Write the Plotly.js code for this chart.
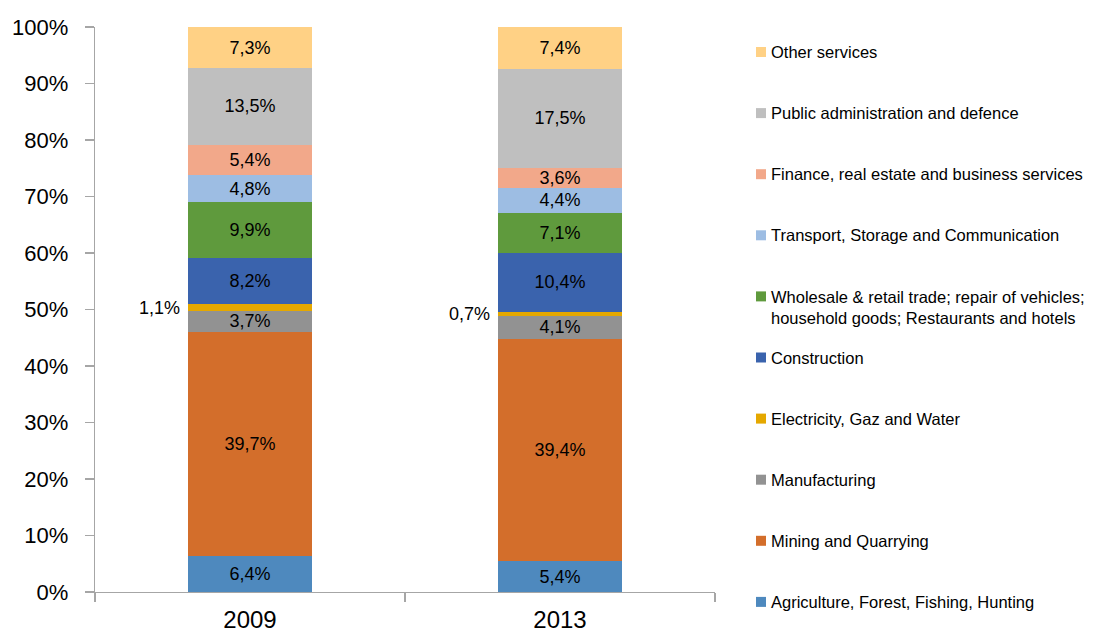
<!DOCTYPE html>
<html>
<head>
<meta charset="utf-8">
<script src="https://cdn.plot.ly/plotly-3.0.1.min.js"></script>
<style>html,body{margin:0;padding:0;background:#fff;}#chart{width:1100px;height:636px;}</style>
</head>
<body>
<div id="chart"></div>
<script>
const categories = ['2009', '2013'];
const seriesNames = [
  'Agriculture, Forest, Fishing, Hunting',
  'Mining and Quarrying',
  'Manufacturing',
  'Electricity, Gaz and Water',
  'Construction',
  'Wholesale & retail trade; repair of vehicles;<br>household goods; Restaurants and hotels',
  'Transport, Storage and Communication',
  'Finance, real estate and business services',
  'Public administration and defence',
  'Other services'
];
const values2009 = [6.4, 39.7, 3.7, 1.1, 8.2, 9.9, 4.8, 5.4, 13.5, 7.3];
const values2013 = [5.4, 39.4, 4.1, 0.7, 10.4, 7.1, 4.4, 3.6, 17.5, 7.4];
const colors = ['#4E89BE', '#D36E2B', '#929292', '#E5A800', '#3A63AD', '#5F9A3D', '#9DBDE3', '#F2A88A', '#BFBFBF', '#FFD185'];
const outsideLabelSeries = ['Electricity, Gaz and Water'];
const yTickValues = [0, 10, 20, 30, 40, 50, 60, 70, 80, 90, 100];

const FONT = 'Liberation Sans, Arial, sans-serif';
const fmt = v => v.toFixed(1).replace('.', ',') + '%';
const seriesValues = seriesNames.map((n, i) => [values2009[i], values2013[i]]);

const traces = seriesNames.map((name, i) => {
  const outside = outsideLabelSeries.includes(name);
  return {
    type: 'bar',
    name: name,
    x: categories,
    y: seriesValues[i],
    text: seriesValues[i].map(v => outside ? '' : fmt(v)),
    textposition: 'inside',
    insidetextanchor: 'middle',
    constraintext: 'none',
    textfont: {family: FONT, size: 18, color: '#000'},
    marker: {color: colors[i], line: {width: 0}},
    width: 0.4,
    hoverinfo: 'skip',
    showlegend: false
  };
});

const annotations = [];
const shapes = [];
// outside labels for thin segments
seriesNames.forEach((name, i) => {
  if (!outsideLabelSeries.includes(name)) return;
  categories.forEach((c, ci) => {
    let base = 0;
    for (let k = 0; k < i; k++) base += seriesValues[k][ci];
    annotations.push({
      xref: 'x', yref: 'y', x: ci - 0.2, y: base + seriesValues[i][ci] / 2,
      text: fmt(seriesValues[i][ci]), showarrow: false, xanchor: 'right', yanchor: 'middle',
      xshift: -6, font: {family: FONT, size: 18, color: '#000'}
    });
  });
});

// custom legend (top item = last series)
const plotTop = 27, plotBottom = 592, plotLeft = 95, plotRight = 715;
const plotH = plotBottom - plotTop, plotW = plotRight - plotLeft;
const legendTop = 52, legendStep = 61.1;
const markerX = (761 - plotLeft) / plotW, textX = (769 - plotLeft) / plotW;
seriesNames.slice().reverse().forEach((name, j) => {
  const idx = seriesNames.length - 1 - j;
  const ypix = legendTop + j * legendStep;
  const yp = (plotBottom - ypix) / plotH;
  const lines = name.split('<br>').length;
  shapes.push({
    type: 'rect', xref: 'paper', yref: 'paper', xsizemode: 'pixel', ysizemode: 'pixel',
    xanchor: markerX, yanchor: yp, x0: -5, x1: 5, y0: -5, y1: 5,
    fillcolor: colors[idx], line: {width: 0}
  });
  annotations.push({
    xref: 'paper', yref: 'paper', x: textX, y: yp, xanchor: 'left', yanchor: 'middle',
    yshift: -(lines - 1) * 11, align: 'left', showarrow: false, text: name,
    font: {family: FONT, size: 16.5, color: '#000'}
  });
});

const layout = {
  width: 1100, height: 636,
  margin: {l: plotLeft, r: 1100 - plotRight, t: plotTop, b: 636 - plotBottom},
  paper_bgcolor: '#fff', plot_bgcolor: '#fff',
  barmode: 'stack',
  showlegend: false,
  xaxis: {
    type: 'category', range: [-0.5, 1.5], tickson: 'boundaries',
    showline: true, linecolor: '#A6A6A6', linewidth: 1.3,
    ticks: 'outside', ticklen: 9, tickcolor: '#A6A6A6', tickwidth: 1.3,
    showgrid: false, zeroline: false, ticklabelstandoff: 6,
    tickfont: {family: FONT, size: 24, color: '#000'}
  },
  yaxis: {
    range: [0, 100], tickvals: yTickValues, ticktext: yTickValues.map(v => v + '%'),
    showline: true, linecolor: '#A6A6A6', linewidth: 1.3,
    ticks: 'outside', ticklen: 9, tickcolor: '#A6A6A6', tickwidth: 1.3,
    showgrid: false, zeroline: false, ticklabelstandoff: 12,
    tickfont: {family: FONT, size: 22, color: '#000'}
  },
  annotations: annotations,
  shapes: shapes
};

Plotly.newPlot('chart', traces, layout, {staticPlot: true, displayModeBar: false});
</script>
</body>
</html>
